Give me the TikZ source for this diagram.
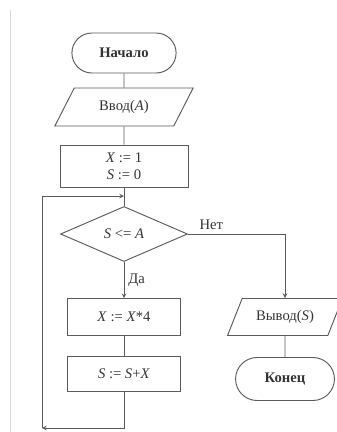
\documentclass[tikz,border=0pt]{standalone}
\usepackage{fontspec}
\setmainfont{Liberation Serif}
\usetikzlibrary{shapes.geometric,shapes.misc}
\definecolor{linegray}{HTML}{5A5A5A}
\definecolor{textgray}{HTML}{333333}

\begin{document}
\begin{tikzpicture}[node distance=1.7cm, every node/.style={text=textgray, font=\fontsize{12.5}{14.5}\selectfont}]
        \tikzstyle{startstop} = [rounded rectangle, minimum width=3.36cm, minimum height=1.2cm, text centered, draw=linegray, line width=0.8pt, font=\fontsize{12.5}{14.5}\selectfont\bfseries]
        \tikzstyle{io} = [trapezium, trapezium left angle=62, trapezium right angle=118, trapezium stretches=true, minimum width=4.17cm, minimum height=1.14cm, text centered, draw=linegray, line width=0.8pt]
        \tikzstyle{process} = [rectangle, minimum width=3.39cm, minimum height=1.1cm, text centered, align=center, draw=linegray, line width=0.8pt]
        \tikzstyle{decision} = [diamond, minimum width=3.81cm, minimum height=1.65cm, inner sep=0pt, text centered, draw=linegray, line width=0.8pt]
        \tikzstyle{line} = [draw=linegray, line width=0.8pt]
        \tikzstyle{arrow} = [line,->,>=stealth]

        \useasboundingbox (0,0) rectangle (10.11,-12.96);
        \draw [black!15, line width=0.6pt] (0.3,-0.3) -- (0.3,-12.96);

        \node (start) [startstop] at (3.72,-1.59) {Начало};
        \node (io) [io, below of=start, yshift=0.08cm] {Ввод(\textit{A})};
        \node (init) [process, below of=io, yshift=-0.07cm, minimum width=3.84cm, minimum height=1.26cm] {\textit{X} := 1\\\textit{S} := 0};
        \node (dec) [decision, below of=init, yshift=-0.34cm] {\textit{S} <= \textit{A}};
        \node (body) [process, below of=dec, yshift=-0.79cm] {\textit{X} := \textit{X}*4};
        \node (sum) [process, below of=body, minimum height=1.05cm] {\textit{S} := \textit{S}+\textit{X}};
        \node (out) [io, right of=body, xshift=3.13cm, minimum width=3.45cm, minimum height=1.11cm] {Вывод(\textit{S})};
        \node (stop) [startstop, below of=out, yshift=-0.16cm, minimum width=3.2cm, minimum height=1.29cm] {Конец};
        \coordinate (corner) at (1.26,-12.84);
        \coordinate (join) at (3.72,-5.88);

        \draw [line] (start) -- (io);
        \draw [line] (io) -- (init);
        \draw [line] (init) -- (dec);
        \draw [arrow] (dec) -- node[right] {Да} (body);
        \draw [line] (body) -- (sum);
        \draw [arrow] (sum) |- (corner);
        \draw [arrow] (corner) |- (join);
        \draw [arrow] (dec.east) -| node[pos=0.12, above] {Нет} (out.north);
        \draw [line] (out) -- (stop);
    \end{tikzpicture}
\end{document}
